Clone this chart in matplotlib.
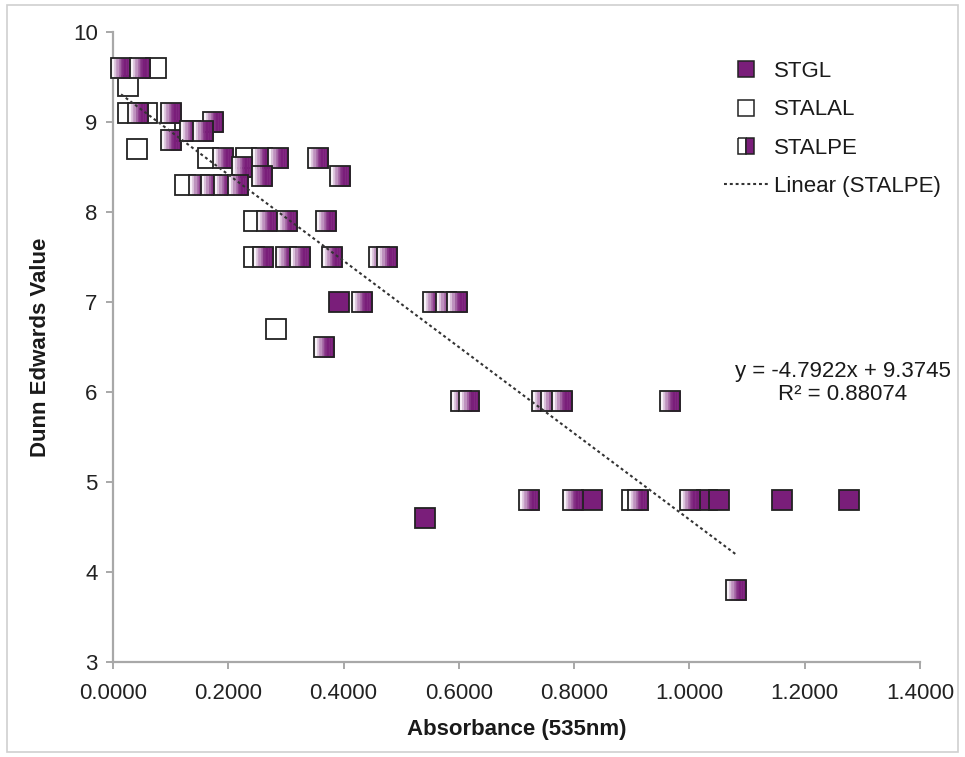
import matplotlib
matplotlib.use("Agg")
import matplotlib.pyplot as plt
import numpy as np
from matplotlib.path import Path
from matplotlib.lines import Line2D
from matplotlib.patches import Rectangle

plt.rcParams['font.family'] = ['Liberation Sans', 'DejaVu Sans']

# ---------------- data ----------------
stgl_x = [0.392, 0.541, 0.831, 1.030, 1.051, 1.161, 1.277]
stgl_y = [7.0, 4.6, 4.8, 4.8, 4.8, 4.8, 4.8]

stalal_x = [0.075, 0.026, 0.026, 0.059, 0.042, 0.125, 0.125, 0.165, 0.230, 0.245, 0.245, 0.283, 0.900]
stalal_y = [9.6, 9.4, 9.1, 9.1, 8.7, 8.9, 8.3, 8.6, 8.6, 7.5, 7.9, 6.7, 4.8]

stalpe_x = [0.014, 0.047, 0.043, 0.100, 0.100, 0.173, 0.134, 0.156, 0.190, 0.258,
            0.287, 0.356, 0.224, 0.258, 0.394, 0.150, 0.170, 0.193, 0.217, 0.268,
            0.302, 0.370, 0.260, 0.300, 0.325, 0.380, 0.462, 0.475, 0.432, 0.555,
            0.578, 0.597, 0.366, 0.604, 0.618, 0.744, 0.760, 0.779, 0.966, 0.722,
            0.798, 0.910, 1.001, 1.081]
stalpe_y = [9.6, 9.6, 9.1, 9.1, 8.8, 9.0, 8.9, 8.9, 8.6, 8.6,
            8.6, 8.6, 8.5, 8.4, 8.4, 8.3, 8.3, 8.3, 8.3, 7.9,
            7.9, 7.9, 7.5, 7.5, 7.5, 7.5, 7.5, 7.5, 7.0, 7.0,
            7.0, 7.0, 6.5, 5.9, 5.9, 5.9, 5.9, 5.9, 5.9, 4.8,
            4.8, 4.8, 4.8, 3.8]

trend_slope = -4.7922
trend_intercept = 9.3745
trend_r2 = 0.88074

x_ticks = [0.0, 0.2, 0.4, 0.6, 0.8, 1.0, 1.2, 1.4]
y_ticks = [3, 4, 5, 6, 7, 8, 9, 10]

# ---------------- style ----------------
PURPLE = '#7A1E7A'
EDGE = '#222222'
MS = 14.2
EW = 1.3
TXT = '#1a1a1a'
FS = 16

fig = plt.figure(figsize=(9.65, 7.57), dpi=100)
ax = fig.add_axes([0.1171, 0.1255, 0.8363, 0.8322])

# outer frame of the picture
fig.patches.append(Rectangle((0.007, 0.006), 0.986, 0.988, transform=fig.transFigure,
                             fill=False, edgecolor='#CFCFCF', linewidth=1.2))

def strip(x0, x1):
    return Path([(x0, -0.5), (x1, -0.5), (x1, 0.5), (x0, 0.5), (x0, -0.5)],
                [Path.MOVETO, Path.LINETO, Path.LINETO, Path.LINETO, Path.CLOSEPOLY])

# gradient strips white -> purple
n_strips = 8
edges = np.linspace(-0.5, 0.5, n_strips + 1)
w = np.array([1.0, 1.0, 1.0])
p = np.array(matplotlib.colors.to_rgb(PURPLE))
grad_cols = []
for i in range(n_strips):
    t = min(1.0, (i + 0.3) / n_strips * 1.7)
    grad_cols.append(tuple(w * (1 - t) + p * t))

z = 3
# STGL
for x, y in zip(stgl_x, stgl_y):
    ax.plot([x], [y], linestyle='none', marker='s', ms=MS, mfc=PURPLE, mec=EDGE, mew=EW,
            zorder=z, clip_on=False)
    z += 0.01
# STALAL
for x, y in zip(stalal_x, stalal_y):
    ax.plot([x], [y], linestyle='none', marker='s', ms=MS, mfc='white', mec=EDGE, mew=EW,
            zorder=z, clip_on=False)
    z += 0.01
# STALPE
for x, y in zip(stalpe_x, stalpe_y):
    for i in range(n_strips):
        ax.plot([x], [y], linestyle='none', marker=strip(edges[i], edges[i + 1]), ms=MS,
                mfc=grad_cols[i], mec=grad_cols[i], mew=0.4, zorder=z, clip_on=False)
    ax.plot([x], [y], linestyle='none', marker='s', ms=MS, mfc='none', mec=EDGE, mew=EW,
            zorder=z + 0.001, clip_on=False)
    z += 0.01

# trend line
xs = np.array([min(stalpe_x), max(stalpe_x)])
ax.plot(xs, trend_slope * xs + trend_intercept, linestyle=(0, (1.4, 1.4)), color='#333333',
        linewidth=1.5, zorder=50)

ax.text(843 / 965, 1 - 372 / 757, f"y = {trend_slope}x + {trend_intercept}",
        transform=fig.transFigure, ha='center', va='center', fontsize=FS, color=TXT)
ax.text(843 / 965, 1 - 394 / 757, f"R² = {trend_r2}",
        transform=fig.transFigure, ha='center', va='center', fontsize=FS, color=TXT)

# axes
ax.set_xlim(0, 1.4)
ax.set_ylim(3, 10)
ax.set_xticks(x_ticks)
ax.set_xticklabels([f"{v:.4f}" for v in x_ticks])
ax.set_yticks(y_ticks)
ax.set_yticklabels([str(v) for v in y_ticks])
for s in ['top', 'right']:
    ax.spines[s].set_visible(False)
for s in ['left', 'bottom']:
    ax.spines[s].set_color('#A8A8A8')
    ax.spines[s].set_linewidth(1.6)
ax.tick_params(axis='both', colors='#A8A8A8', labelcolor='#222222', labelsize=FS,
               length=5, width=1.4, direction='out')
ax.tick_params(axis='x', pad=10)
ax.tick_params(axis='y', pad=6)

ax.set_xlabel("Absorbance (535nm)", fontsize=FS, fontweight='bold', color=TXT, labelpad=11)
ax.set_ylabel("Dunn Edwards Value", fontsize=FS, fontweight='bold', color=TXT, labelpad=16)

# legend
handles = [
    Line2D([], [], linestyle='none', marker='s', ms=11, mfc=PURPLE, mec=EDGE, mew=1.1),
    Line2D([], [], linestyle='none', marker='s', ms=11, mfc='white', mec=EDGE, mew=1.1),
    Line2D([], [], linestyle='none', marker='s', ms=11, mfc='white', mfcalt=PURPLE,
           fillstyle='left', mec=EDGE, mew=1.1),
    Line2D([], [], linestyle=(0, (1.4, 1.4)), color='#333333', linewidth=1.5),
]
labels = ['STGL', 'STALAL', 'STALPE', 'Linear (STALPE)']
leg = ax.legend(handles, labels, loc='upper left', bbox_to_anchor=(724 / 965, 1 - 61 / 757),
                bbox_transform=fig.transFigure, frameon=False, fontsize=FS,
                handlelength=2.0, handletextpad=0.25, labelspacing=0.78, borderpad=0,
                borderaxespad=0)
for t in leg.get_texts():
    t.set_color(TXT)

fig.savefig('out.png', dpi=100)
